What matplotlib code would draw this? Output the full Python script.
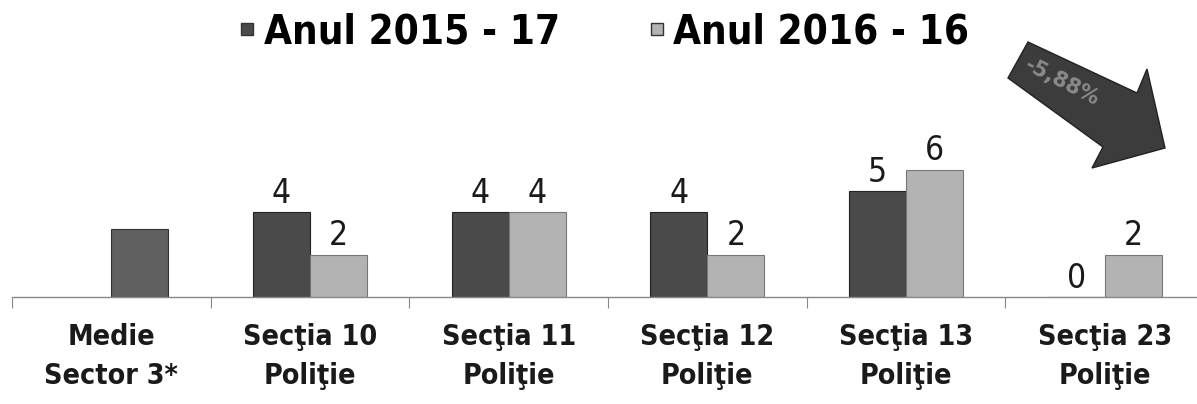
import matplotlib
matplotlib.use("Agg")
import matplotlib.pyplot as plt
import numpy as np
from matplotlib.lines import Line2D
from matplotlib.patches import Polygon

LEGEND_FONT = ['DejaVu Sans']
LABEL_FONT = ['DejaVu Sans']

categories = ["Medie\nSector 3*", "Secţia 10\nPoliţie", "Secţia 11\nPoliţie",
              "Secţia 12\nPoliţie", "Secţia 13\nPoliţie", "Secţia 23\nPoliţie"]
vals_2015 = [np.nan, 4, 4, 4, 5, 0]
vals_2016 = [np.nan, 2, 4, 2, 6, 2]
medie_val = [3.2, np.nan, np.nan, np.nan, np.nan, np.nan]
legend_labels = ["Anul 2015 - 17", "Anul 2016 - 16"]
change_label = "-5,88%"

c2015 = "#4a4a4a"
c2016 = "#b3b3b3"
cmed = "#606060"

fig = plt.figure(figsize=(11.97, 4.04), dpi=100)
ax = fig.add_axes([12/1197, 107/404, 1192/1197, 170/404])
x = np.arange(len(categories))
w = 0.287
ax.bar(x - w/2, vals_2015, w, color=c2015, edgecolor="#222222", linewidth=0.8)
ax.bar(x + w/2, vals_2016, w, color=c2016, edgecolor="#777777", linewidth=0.8)
ax.bar(x + w/2, medie_val, w, color=cmed, edgecolor="#333333", linewidth=0.8)

for off, vals in ((-w/2, vals_2015), (w/2, vals_2016)):
    for xi, v in zip(x + off, vals):
        if not np.isnan(v):
            ax.text(xi, v + 0.1, f"{int(v)}", ha="center", va="bottom",
                    fontsize=24, family=LABEL_FONT, fontstretch="condensed",
                    color="#1a1a1a")

ax.set_xlim(-0.5, len(categories) - 0.5)
ax.set_ylim(0, 8)
for s in ["top", "right", "left"]:
    ax.spines[s].set_visible(False)
ax.spines["bottom"].set_color("#888888")
ax.spines["bottom"].set_linewidth(1.0)
ax.set_yticks([])
ax.set_xticks(np.arange(-0.5, len(categories), 1.0))
ax.set_xticklabels([])
ax.tick_params(axis="x", which="major", length=8, color="#888888", direction="out")
ax.set_xticks(x, minor=True)
ax.set_xticklabels(categories, minor=True, fontsize=20.5, family=LABEL_FONT,
                   fontstretch="condensed", fontweight="bold", color="#1a1a1a",
                   linespacing=1.5)
ax.tick_params(axis="x", which="minor", length=0, pad=19)

handles = [Line2D([], [], marker="s", linestyle="none", markersize=9,
                  markerfacecolor=c, markeredgecolor="#333333") for c in (c2015, c2016)]
fig.legend(handles, legend_labels, loc="upper center", bbox_to_anchor=(0.503, 1.06),
           ncol=2, frameon=False, handletextpad=0.12, columnspacing=2.1,
           handlelength=0.6,
           prop={"family": LEGEND_FONT, "weight": "bold", "size": 29, "stretch": "condensed"})

# decorative down-right arrow (pixel outline converted to figure fraction)
arrow_px = [(1028, 42), (1137, 93), (1147, 69), (1165, 148), (1092, 168), (1103, 147), (1008, 78)]
arrow_fig = [(px / 1197, 1 - py / 404) for px, py in arrow_px]
fig.patches.append(Polygon(arrow_fig, closed=True, transform=fig.transFigure,
                           facecolor="#3c3c3c", edgecolor="#222222", linewidth=1))
fig.text(1062/1197, 1 - 82/404, change_label, rotation=-27, ha="center", va="center",
         fontsize=15, family=LABEL_FONT, color="#8a8a8a", fontweight="bold")

fig.savefig("out.png", dpi=100)
